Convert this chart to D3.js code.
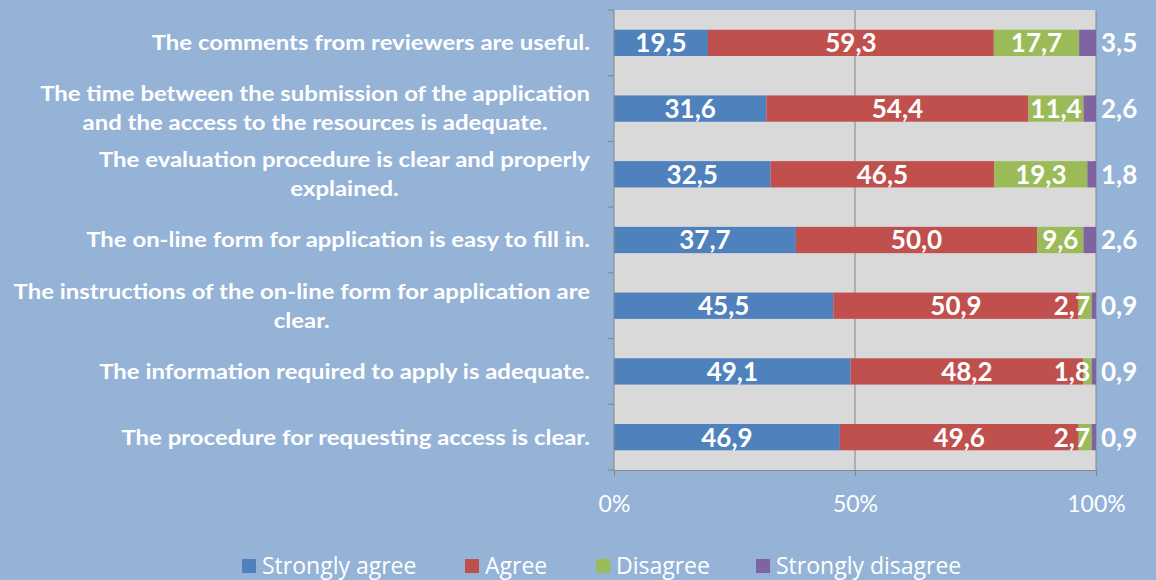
<!DOCTYPE html>
<html>
<head>
<meta charset="utf-8">
<script src="https://cdn.jsdelivr.net/npm/d3@7"></script>
<style>
  body { margin: 0; background: #95b3d7; }
  text { font-family: Lato, "Open Sans", sans-serif; fill: #fff; }
</style>
</head>
<body>
<svg id="chart" width="1156" height="580"></svg>
<script>
// statements, top to bottom ("\n" = line break in the label)
const categories = [
    "The comments from reviewers are useful.",
    "The time between the submission of the application\nand the access to the resources is adequate.",
    "The evaluation procedure is clear and properly\nexplained.",
    "The on-line form for application is easy to fill in.",
    "The instructions of the on-line form for application are\nclear.",
    "The information required to apply is adequate.",
    "The procedure for requesting access is clear."
];
const seriesNames = ["Strongly agree", "Agree", "Disagree", "Strongly disagree"];
const stronglyAgree    = [19.5, 31.6, 32.5, 37.7, 45.5, 49.1, 46.9];
const agree            = [59.3, 54.4, 46.5, 50.0, 50.9, 48.2, 49.6];
const disagree         = [17.7, 11.4, 19.3,  9.6,  2.7,  1.8,  2.7];
const stronglyDisagree = [ 3.5,  2.6,  1.8,  2.6,  0.9,  0.9,  0.9];
const xTicks = [0, 0.5, 1];

(function() {
var colors = ["#4f81bd", "#c0504d", "#9bbb59", "#8064a2"];
var plotLeft = 614, plotRight = 1096, plotTop = 10, plotBottom = 470;

var rows = categories.map(function(c, i) {
    return {cat: c, "Strongly agree": stronglyAgree[i], "Agree": agree[i],
            "Disagree": disagree[i], "Strongly disagree": stronglyDisagree[i]};
});

var stack = d3.stack().keys(seriesNames).offset(d3.stackOffsetExpand);
var layers = stack(rows);

var x = d3.scaleLinear().domain([0, 1]).range([plotLeft, plotRight]);
var y = d3.scaleBand().domain(categories).range([plotTop, plotBottom])
    .paddingInner(0.6).paddingOuter(0.3);
var color = d3.scaleOrdinal(seriesNames, colors);

var svg = d3.select('#chart');

// plot area
svg.append('rect')
    .attr('x', plotLeft).attr('y', plotTop)
    .attr('width', plotRight - plotLeft).attr('height', plotBottom - plotTop)
    .attr('fill', '#d9d9d9');

// vertical gridlines
svg.selectAll('.grid')
    .data(xTicks.slice(1))
    .enter().append('line')
    .attr('x1', d => x(d)).attr('x2', d => x(d))
    .attr('y1', plotTop).attr('y2', plotBottom)
    .attr('stroke', '#868686').attr('stroke-width', 1);

// bars
var groups = svg.selectAll('.layer')
    .data(layers)
    .enter().append('g')
    .attr('fill', d => color(d.key));

groups.selectAll('rect')
    .data(d => d)
    .enter().append('rect')
    .attr('x', d => x(d[0]))
    .attr('y', d => y(d.data.cat))
    .attr('width', d => x(d[1]) - x(d[0]))
    .attr('height', y.bandwidth());

// left axis line + ticks at category boundaries
svg.append('line')
    .attr('x1', plotLeft).attr('x2', plotLeft).attr('y1', plotTop).attr('y2', plotBottom)
    .attr('stroke', '#868686');
svg.selectAll('.ytick')
    .data(d3.range(categories.length + 1))
    .enter().append('line')
    .attr('x1', plotLeft - 6).attr('x2', plotLeft)
    .attr('y1', i => plotTop + i * y.step()).attr('y2', i => plotTop + i * y.step())
    .attr('stroke', '#868686');

// bottom axis
var xAxis = svg.append('g')
    .attr('transform', 'translate(0,' + plotBottom + ')')
    .call(d3.axisBottom(x).tickValues(xTicks).tickFormat(d3.format('.0%')).tickSize(6).tickSizeOuter(0));
xAxis.select('.domain').attr('stroke', '#868686');
xAxis.selectAll('.tick line').attr('stroke', '#868686');
xAxis.selectAll('.tick text')
    .attr('y', 26)
    .style('font-size', '23px')
    .style('font-family', 'Lato, sans-serif')
    .attr('fill', '#fff');

// category labels: block right aligned, lines centered within the block
// (the original text is a bit wider than Lato, so stretch it horizontally)
categories.forEach(function(c) {
    var lines = c.split('\n');
    var lh = 29;
    var cy = y(c) + y.bandwidth() / 2;
    var g = svg.append('g')
        .attr('transform', 'translate(590,' + cy + ') scale(1.14,1)');
    var texts = lines.map(function(l, j) {
        return g.append('text')
            .attr('y', (j - (lines.length - 1) / 2) * lh)
            .attr('dy', '0.35em')
            .attr('text-anchor', 'middle')
            .style('font-size', '21px')
            .style('font-weight', 'bold')
            .text(l);
    });
    var maxW = d3.max(texts, t => t.node().getComputedTextLength());
    texts.forEach(t => t.attr('x', -maxW / 2));
});

// value labels
layers.forEach(function(layer, k) {
    layer.forEach(function(d) {
        var t = svg.append('text')
            .attr('y', y(d.data.cat) + y.bandwidth() / 2)
            .attr('dy', '0.36em')
            .style('font-size', '26px')
            .style('font-weight', 'bold')
            .text(d3.format('.1f')(d.data[layer.key]).replace('.', ','));
        if (k == 3) {
            t.attr('x', plotRight + 5).attr('text-anchor', 'start');
        } else {
            var w = t.node().getComputedTextLength();
            var cx = (x(d[0]) + x(d[1])) / 2;
            cx = Math.min(cx, plotRight - 6 - w / 2);
            t.attr('x', cx).attr('text-anchor', 'middle');
        }
    });
});

// legend
var legendX = [242, 465, 596, 756];
var legend = svg.selectAll('.legend')
    .data(seriesNames)
    .enter().append('g')
    .attr('transform', (d, i) => 'translate(' + legendX[i] + ',559)');
legend.append('rect')
    .attr('width', 14).attr('height', 14)
    .attr('fill', d => color(d));
legend.append('text')
    .attr('x', 20).attr('y', 7).attr('dy', '0.36em')
    .style('font-size', '23px')
    .style('font-family', '"Open Sans", sans-serif')
    .text(d => d);
})();
</script>
</body>
</html>
